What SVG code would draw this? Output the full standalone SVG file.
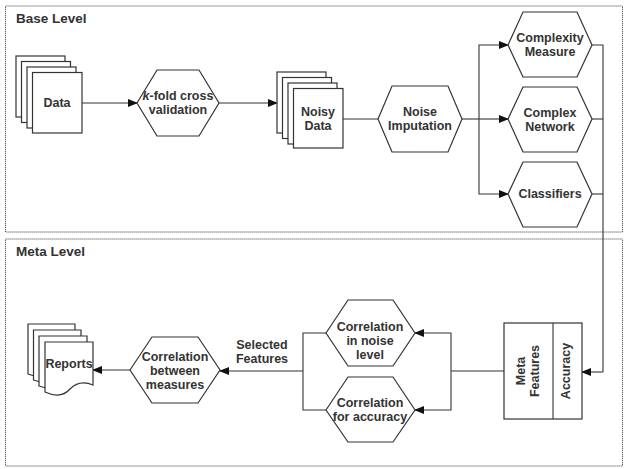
<svg xmlns="http://www.w3.org/2000/svg" width="628" height="469" viewBox="0 0 628 469">
<style>
.frame{fill:none;stroke:#555;stroke-width:1;stroke-dasharray:1.2,0.8}
.shape{fill:#fff;stroke:#333;stroke-width:1.2}
.line{fill:none;stroke:#333;stroke-width:1.1}
.arr{marker-end:url(#ah)}
text{font-family:"Liberation Sans",Arial,sans-serif;font-weight:bold;font-size:12.5px;fill:#333;text-anchor:middle}
.title{font-size:13.5px;text-anchor:start}
</style>
<defs>
<marker id="ah" markerWidth="10" markerHeight="8" refX="9" refY="4" orient="auto" markerUnits="userSpaceOnUse">
<path d="M0,0 L10,4 L0,8 Z" fill="#111"/>
</marker>
</defs>
<g id="base-level">
<rect class="frame" x="5.5" y="6" width="617" height="226"/>
<text class="title" x="16" y="23">Base Level</text>
</g>
<g id="meta-level">
<rect class="frame" x="5.5" y="239" width="617" height="227"/>
<text class="title" x="16" y="256">Meta Level</text>
</g>
<g id="connectors">
<path class="line arr" d="M82,103 H137"/>
<path class="line arr" d="M219,103 H277"/>
<path class="line" d="M343,119 H378"/>
<path class="line" d="M462,119 H479"/>
<path class="line arr" d="M479,119 V45 H508"/>
<path class="line arr" d="M479,119 H508"/>
<path class="line arr" d="M479,119 V194 H508"/>
<path class="line" d="M592,45 H603 V372"/>
<path class="line" d="M592,119 H603"/>
<path class="line" d="M592,194 H603"/>
<path class="line arr" d="M603,372 H582"/>
<path class="line" d="M504,371 H451"/>
<path class="line arr" d="M451,371 V333 H415"/>
<path class="line arr" d="M451,371 V410 H415"/>
<path class="line" d="M326,333 H303 V410 H326"/>
<path class="line arr" d="M303,371 H220"/>
<path class="line arr" d="M130,370 H93"/>
</g>
<g id="data">
<rect class="shape" x="16" y="56" width="49" height="61"/>
<rect class="shape" x="21.5" y="61.5" width="49" height="61"/>
<rect class="shape" x="27" y="67" width="49" height="61"/>
<rect class="shape" x="32.5" y="72.5" width="49.5" height="60.5"/>
<text x="57" y="107">Data</text>
</g>
<g id="kfold">
<polygon class="shape" points="137,103 157,70 199,70 219,103 199,136 157,136"/>
<text x="178" y="100"><tspan font-style="italic">k</tspan>-fold cross</text>
<text x="178" y="114">validation</text>
</g>
<g id="noisy-data">
<rect class="shape" x="277" y="72" width="49" height="61"/>
<rect class="shape" x="282.5" y="77.5" width="49" height="61"/>
<rect class="shape" x="288" y="83" width="49" height="61"/>
<rect class="shape" x="293.5" y="88.5" width="49.5" height="59.5"/>
<text x="318" y="116">Noisy</text>
<text x="318" y="130">Data</text>
</g>
<g id="noise-imputation">
<polygon class="shape" points="378,119 392,86 448,86 462,119 448,152 392,152"/>
<text x="420" y="116">Noise</text>
<text x="420" y="130">Imputation</text>
</g>
<g id="complexity-measure">
<polygon class="shape" points="508,45 523,12 577,12 592,45 577,77 523,77"/>
<text x="550" y="42">Complexity</text>
<text x="550" y="56">Measure</text>
</g>
<g id="complex-network">
<polygon class="shape" points="508,119 523,87 577,87 592,119 577,152 523,152"/>
<text x="550" y="117">Complex</text>
<text x="550" y="131">Network</text>
</g>
<g id="classifiers">
<polygon class="shape" points="508,194 523,162 577,162 592,194 577,227 523,227"/>
<text x="550" y="198">Classifiers</text>
</g>
<g id="meta-features">
<rect class="shape" x="504" y="323" width="78" height="96"/>
<line class="line" x1="553" y1="323" x2="553" y2="419"/>
<text transform="translate(525,371) rotate(-90)">Meta</text>
<text transform="translate(539,371) rotate(-90)">Features</text>
<text transform="translate(569.5,371) rotate(-90)">Accuracy</text>
</g>
<g id="corr-noise">
<polygon class="shape" points="326,333 348,300 393,300 415,333 393,366 348,366"/>
<text x="370" y="331">Correlation</text>
<text x="370" y="345">in noise</text>
<text x="370" y="359">level</text>
</g>
<g id="corr-accuracy">
<polygon class="shape" points="326,410 348,377 393,377 415,410 393,442 348,442"/>
<text x="370" y="407">Correlation</text>
<text x="370" y="421">for accuracy</text>
</g>
<g id="selected-features">
<text x="262" y="349">Selected</text>
<text x="262" y="363">Features</text>
</g>
<g id="corr-between">
<polygon class="shape" points="130,370 152,337 198,337 220,370 198,403 152,403"/>
<text x="175" y="361">Correlation</text>
<text x="175" y="375">between</text>
<text x="175" y="389">measures</text>
</g>
<g id="reports">
<path class="shape" d="M28,324 H75 V368 C66,364 58,366 52,372 C46,378 38,378 28,374 Z"/>
<path class="shape" d="M33.5,330 H81 V374 C72,370 64,372 58,378 C52,384 44,384 33.5,380 Z"/>
<path class="shape" d="M39,336 H87 V380 C78,376 70,378 64,384 C58,390 50,390 39,386 Z"/>
<path class="shape" d="M45,342 H93 V385 C84,381 76,383 70,389 C64,396 56,397 45,392 Z"/>
<text x="69" y="368">Reports</text>
</g>
</svg>
